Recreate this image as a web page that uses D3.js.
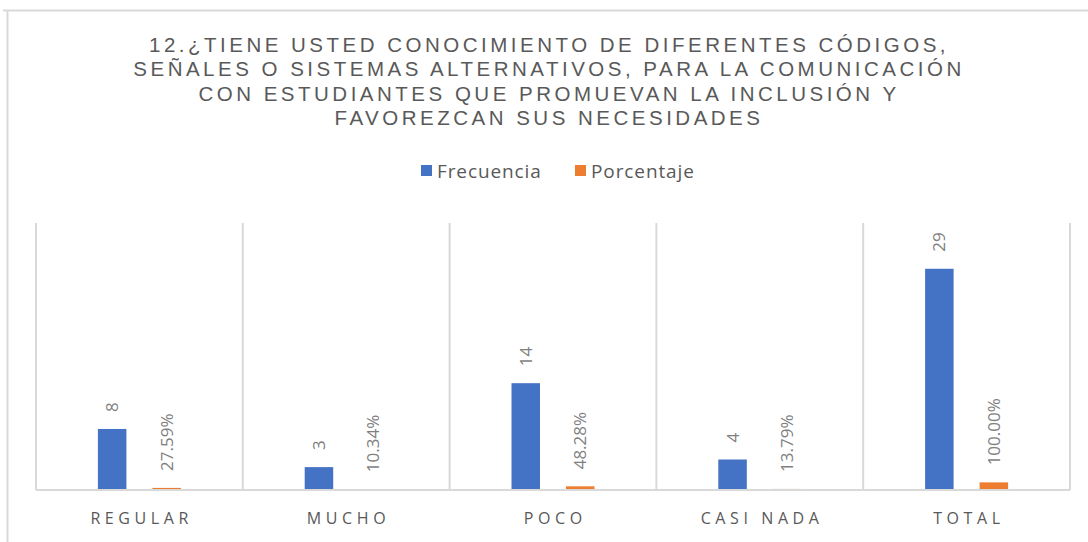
<!DOCTYPE html>
<html><head><meta charset="utf-8">
<script src="https://cdn.jsdelivr.net/npm/d3@7"></script>
<style>
html,body{margin:0;padding:0;background:#fff;}
svg{display:block;}
</style></head>
<body>
<svg id="chart" width="1088" height="542"></svg>
<script>
const titleLines = [
  "12.¿TIENE USTED CONOCIMIENTO DE DIFERENTES CÓDIGOS,",
  "SEÑALES O SISTEMAS ALTERNATIVOS, PARA LA COMUNICACIÓN",
  "CON ESTUDIANTES QUE PROMUEVAN LA INCLUSIÓN Y",
  "FAVOREZCAN SUS NECESIDADES"
];
const categories = ["REGULAR", "MUCHO", "POCO", "CASI NADA", "TOTAL"];
const seriesNames = ["Frecuencia", "Porcentaje"];
const frecuencia = [8, 3, 14, 4, 29];
const porcentaje = [0.2759, 0.1034, 0.4828, 0.1379, 1.0];
const porcentajeLabels = ["27.59%", "10.34%", "48.28%", "13.79%", "100.00%"];
const yDomain = [0, 35];

const colors = {"Frecuencia": "#4472C4", "Porcentaje": "#ED7D31"};
const svg = d3.select("#chart");
const W = 1088, H = 542;
const plot = {left: 36, right: 1070, top: 223, bottom: 490};

// outer frame
svg.append("line").attr("x1", 3).attr("x2", W).attr("y1", 10.5).attr("y2", 10.5)
  .attr("stroke", "#d9d9d9").attr("stroke-width", 2);
svg.append("line").attr("x1", 7.5).attr("x2", 7.5).attr("y1", 10).attr("y2", H)
  .attr("stroke", "#d9d9d9").attr("stroke-width", 2);

// title
const title = svg.append("text").attr("text-anchor", "middle")
  .attr("font-family", "'Liberation Sans Narrow','Liberation Sans',Arial,sans-serif")
  .attr("font-size", 20.5).attr("fill", "#595959").attr("letter-spacing", "3.5px");
titleLines.forEach((t, i) => {
  title.append("tspan").attr("x", 549).attr("y", 52 + i * 24.3).text(t);
});

// legend
const leg = svg.append("g").attr("font-family", "'Open Sans','Noto Sans',sans-serif")
  .attr("font-size", 19).attr("fill", "#595959").attr("letter-spacing", "0.9px");
const legX = [421, 575];
seriesNames.forEach((s, i) => {
  leg.append("rect").attr("x", legX[i]).attr("y", 165).attr("width", 11).attr("height", 11)
    .attr("fill", colors[s]);
  leg.append("text").attr("x", legX[i] + 16).attr("y", 178).text(s);
});

// scales
const x0 = d3.scaleBand().domain(categories).range([plot.left, plot.right]).paddingInner(0).paddingOuter(0);
const x1 = d3.scaleBand().domain(seriesNames).range([0, x0.bandwidth()]).paddingInner(0.477).paddingOuter(1.136);
const y = d3.scaleLinear().domain(yDomain).range([plot.bottom, plot.top]);

// vertical gridlines at category boundaries
const bounds = categories.map(c => x0(c)).concat([plot.right]);
svg.append("g").selectAll("line").data(bounds).join("line")
  .attr("x1", d => d).attr("x2", d => d).attr("y1", plot.top).attr("y2", plot.bottom)
  .attr("stroke", "#d9d9d9").attr("stroke-width", 2);

// bars
const rows = categories.map((c, i) => ({
  cat: c,
  vals: [
    {s: "Frecuencia", v: frecuencia[i], label: String(frecuencia[i])},
    {s: "Porcentaje", v: porcentaje[i], label: porcentajeLabels[i]}
  ]
}));
const groups = svg.append("g").selectAll("g").data(rows).join("g")
  .attr("transform", d => `translate(${x0(d.cat)},0)`);
groups.selectAll("rect").data(d => d.vals).join("rect")
  .attr("x", d => x1(d.s)).attr("width", x1.bandwidth())
  .attr("y", d => y(d.v)).attr("height", d => y(0) - y(d.v))
  .attr("fill", d => colors[d.s]);
groups.selectAll("text").data(d => d.vals).join("text")
  .attr("transform", d => `translate(${x1(d.s) + x1.bandwidth() / 2 + 6},${y(d.v) - 17}) rotate(-90)`)
  .attr("text-anchor", "start")
  .attr("font-family", "'Open Sans','Noto Sans',sans-serif").attr("font-size", 17)
  .attr("fill", "#7f7f7f").text(d => d.label);

// baseline
svg.append("line").attr("x1", plot.left).attr("x2", plot.right).attr("y1", plot.bottom).attr("y2", plot.bottom)
  .attr("stroke", "#d9d9d9").attr("stroke-width", 2);

// x axis labels
const xAxis = d3.axisBottom(x0).tickSize(0).tickPadding(0);
const ax = svg.append("g").attr("transform", `translate(0,${plot.bottom})`).call(xAxis);
ax.select(".domain").remove();
ax.selectAll("text").attr("y", 34).attr("dy", 0)
  .attr("font-family", "'Open Sans','Noto Sans',sans-serif").attr("font-size", 16)
  .attr("letter-spacing", "4.6px").attr("fill", "#595959")
  .attr("dx", "2.3px");
</script>
</body></html>
